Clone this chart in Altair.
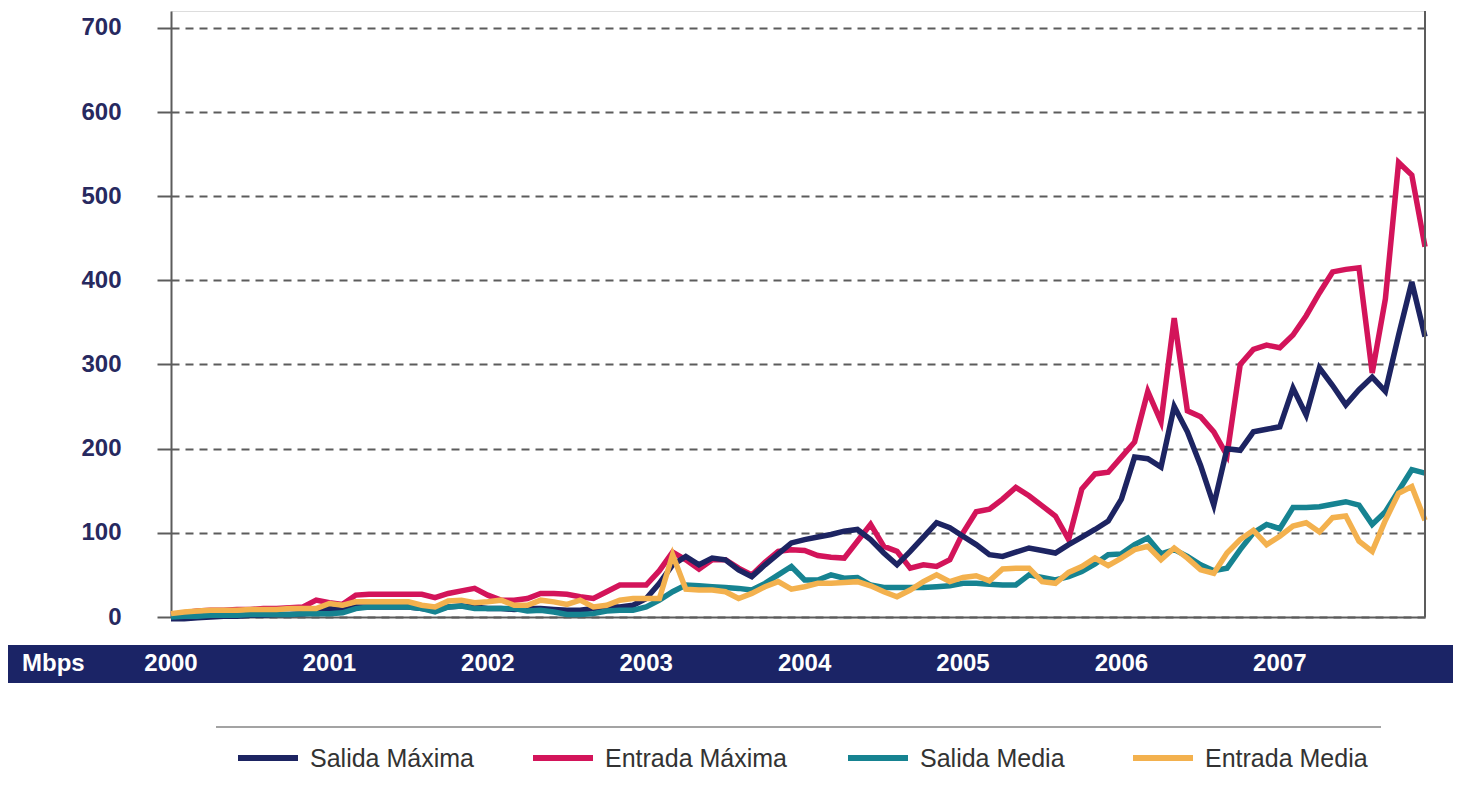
import altair as alt
import pandas as pd

# ---------------- data ----------------
series_names = ["Salida Máxima", "Entrada Máxima", "Salida Media", "Entrada Media"]
series_colors = ["#1d2462", "#d3145a", "#168391", "#f3b14e"]

# monthly values, Jan 2000 .. Dec 2007 (Mbps)
salida_maxima = [
    -2, -2, -1, 0, 1, 1, 2, 2, 3, 3, 4, 5,
    10, 8, 12, 12, 12, 12, 12, 10, 8, 12, 13, 12,
    10, 10, 9, 10, 10, 9, 8, 8, 10, 12, 12, 14,
    22, 40, 62, 72, 62, 70, 68, 56, 48, 62, 75, 88,
    92, 95, 98, 102, 104, 92, 76, 62, 78, 95, 112, 106,
    96, 86, 74, 72, 77, 82, 79, 76, 86, 95, 104, 114,
    140, 190, 188, 178, 250, 220, 180, 133, 200, 198, 220, 223,
    226, 272, 240, 296, 275, 252, 270, 285, 268, 335, 398, 333,
]
entrada_maxima = [
    3, 5, 7, 8, 8, 9, 9, 10, 10, 11, 12, 20,
    17, 15, 26, 27, 27, 27, 27, 27, 23, 28, 31, 34,
    26, 20, 20, 22, 28, 28, 27, 24, 22, 30, 38, 38,
    38, 55, 77, 68, 57, 68, 68, 58, 50, 65, 78, 80,
    79, 73, 71, 70, 90, 110, 84, 78, 58, 62, 60, 68,
    100, 125, 128, 140, 154, 144, 132, 120, 92, 152, 170, 172,
    190, 208, 268, 232, 355, 245, 238, 220, 192, 300, 318, 323,
    320, 335, 358, 385, 410, 413, 415, 290, 378, 540, 525, 440,
]
salida_media = [
    0, 1, 1, 2, 2, 2, 3, 3, 3, 3, 4, 4,
    4, 5, 10, 12, 12, 12, 12, 10, 6, 12, 13, 10,
    10, 10, 10, 7, 8, 6, 3, 3, 4, 7, 8, 8,
    12, 20, 30, 38, 37, 36, 35, 34, 32, 40, 50, 60,
    44, 44, 50, 46, 47, 38, 35, 35, 35, 35, 36, 37,
    40, 40, 39, 38, 38, 50, 47, 44, 48, 54, 63, 74,
    75, 86, 94, 75, 80, 72, 62, 55, 58, 80, 100, 110,
    105, 130, 130, 131, 134, 137, 133, 110, 125, 150, 175, 171,
]
entrada_media = [
    4, 6, 7, 8, 8, 8, 9, 9, 9, 10, 10, 10,
    16, 14, 18, 18, 18, 18, 18, 14, 12, 19, 20, 17,
    18, 20, 14, 14, 20, 18, 15, 20, 12, 14, 20, 22,
    22, 22, 74, 33, 32, 32, 30, 22, 28, 36, 42, 33,
    36, 40, 40, 41, 42, 37, 30, 24, 32, 42, 50, 42,
    47, 49, 43, 57, 58, 58, 42, 40, 53, 60, 70, 61,
    70, 80, 84, 68, 82, 70, 56, 52, 76, 92, 103, 86,
    96, 108, 112, 101, 118, 120, 90, 78, 115, 147, 155, 115,
]
series_values = [salida_maxima, entrada_maxima, salida_media, entrada_media]

years = ["2000", "2001", "2002", "2003", "2004", "2005", "2006", "2007"]
y_ticks = [0, 100, 200, 300, 400, 500, 600, 700]
unit_label = "Mbps"

# ---------------- layout ----------------
W, H = 1254, 606
PAD_L, PAD_R, PAD_T, PAD_B = 163, 28, 3, 157
FONT = "Liberation Sans, Arial, Helvetica, sans-serif"
GRAY = "#5c5c5c"
NAVY = "#1b2466"

xs = alt.Scale(domain=[0, 95], nice=False, zero=False)
ys = alt.Scale(domain=[0, 720], nice=False)
cs = alt.Scale(domain=series_names, range=series_colors)

x_axis = alt.Axis(labels=False, ticks=False, grid=False, domain=True,
                  domainColor=GRAY, domainWidth=2, title=None)
y_axis = alt.Axis(values=y_ticks, grid=True, gridDash=[8, 6], gridColor=GRAY,
                  gridWidth=2, tickSize=14, tickColor=GRAY, tickWidth=2,
                  domainColor=GRAY, domainWidth=2, labelFont=FONT,
                  labelFontSize=24, labelFontWeight="bold", labelColor="#27295f",
                  labelPadding=36, title=None)

one = pd.DataFrame({"a": [0]})

# plot-order: red, navy, teal, orange (orange on top)
draw_order = [1, 0, 2, 3]
line_layers = []
for k in draw_order:
    df = pd.DataFrame({"m": list(range(len(series_values[k]))),
                       "v": series_values[k],
                       "serie": series_names[k]})
    line_layers.append(
        alt.Chart(df).mark_line(strokeWidth=5.5, strokeJoin="miter", clip=False).encode(
            x=alt.X("m:Q", scale=xs, axis=x_axis),
            y=alt.Y("v:Q", scale=ys, axis=y_axis),
            color=alt.Color("serie:N", scale=cs, legend=None),
        )
    )

right_border = alt.Chart(one).mark_rule(color=GRAY, strokeWidth=2).encode(
    x=alt.value(W), y=alt.value(0), y2=alt.value(H))

band = alt.Chart(one).mark_rect(color=NAVY).encode(
    x=alt.value(-PAD_L), x2=alt.value(W + PAD_R), y=alt.value(634), y2=alt.value(672))

year_df = pd.DataFrame({"year": years, "m": [(int(y) - 2000) * 12 for y in years]})
year_text = alt.Chart(year_df).mark_text(
    font=FONT, fontSize=24, fontWeight="bold", color="white", baseline="middle"
).encode(x=alt.X("m:Q", scale=xs), y=alt.value(653), text="year:N")

unit_text = alt.Chart(pd.DataFrame({"t": [unit_label]})).mark_text(
    font=FONT, fontSize=24, fontWeight="bold", color="white",
    baseline="middle", align="left"
).encode(x=alt.value(-149), y=alt.value(653), text="t:N")

separator = alt.Chart(one).mark_rule(color="#a3a3a3", strokeWidth=2).encode(
    x=alt.value(45), x2=alt.value(1210), y=alt.value(716))

# legend built from the series names / colours
swatch_x = [67, 362, 677, 962]
legend_layers = []
for k in range(4):
    ldf = pd.DataFrame({"serie": [series_names[k]]})
    legend_layers.append(
        alt.Chart(ldf).mark_rule(strokeWidth=6).encode(
            x=alt.value(swatch_x[k]), x2=alt.value(swatch_x[k] + 60),
            y=alt.value(747), color=alt.Color("serie:N", scale=cs, legend=None))
    )
    legend_layers.append(
        alt.Chart(ldf).mark_text(font=FONT, fontSize=25, color="#333333",
                                 align="left", baseline="middle").encode(
            x=alt.value(swatch_x[k] + 72), y=alt.value(748), text="serie:N")
    )

chart = alt.layer(
    *line_layers, right_border, band, year_text, unit_text, separator, *legend_layers
).properties(
    width=W, height=H,
    autosize=alt.AutoSizeParams(type="none"),
    padding={"left": PAD_L, "top": PAD_T, "right": PAD_R, "bottom": PAD_B},
).configure_view(strokeWidth=0).configure(background="white")

chart.save("out.html", embed_options={"renderer": "svg", "actions": False})
